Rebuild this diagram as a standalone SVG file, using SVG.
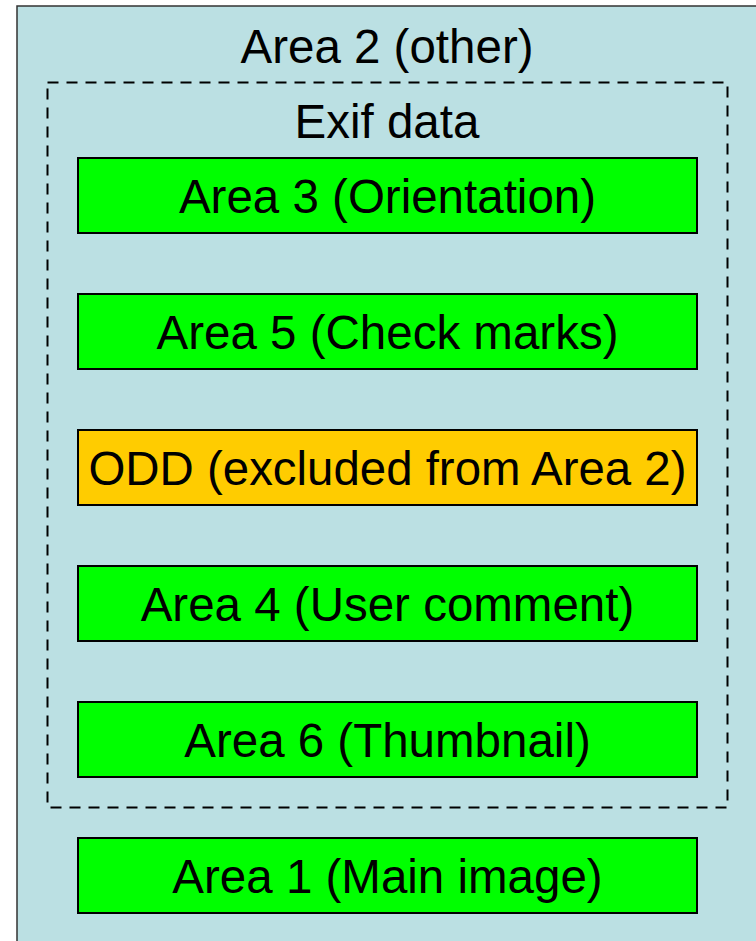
<svg xmlns="http://www.w3.org/2000/svg" width="756" height="941" viewBox="0 0 756 941">
<style>
  .t { font-family: "Liberation Sans", Arial, sans-serif; font-size: 47.5px; fill: #000; text-anchor: middle; }
  .node { stroke: #000; stroke-width: 2; }
  .green { fill: #00FF00; }
  .orange { fill: #FFCC00; }
</style>
<rect width="756" height="941" fill="#ffffff"/>
<g id="area2">
  <rect x="17" y="6" width="760" height="960" fill="#BBE0E3" stroke="#333" stroke-width="1.5"/>
  <text class="t" x="387" y="62.5">Area 2 (other)</text>
</g>
<g id="exif">
  <rect x="47.5" y="82.5" width="680" height="725" fill="none" stroke="#000" stroke-width="2" stroke-dasharray="11 8"/>
  <text class="t" x="387" y="138">Exif data</text>
</g>
<g id="area3">
  <rect class="node green" x="78" y="158" width="619" height="75"/>
  <text class="t" x="387.5" y="213">Area 3 (Orientation)</text>
</g>
<g id="area5">
  <rect class="node green" x="78" y="294" width="619" height="75"/>
  <text class="t" x="387.5" y="349">Area 5 (Check marks)</text>
</g>
<g id="odd">
  <rect class="node orange" x="78" y="430" width="619" height="75"/>
  <text class="t" x="387.5" y="485" textLength="598" lengthAdjust="spacingAndGlyphs">ODD (excluded from Area 2)</text>
</g>
<g id="area4">
  <rect class="node green" x="78" y="566" width="619" height="75"/>
  <text class="t" x="387.5" y="621">Area 4 (User comment)</text>
</g>
<g id="area6">
  <rect class="node green" x="78" y="702" width="619" height="75"/>
  <text class="t" x="387.5" y="757">Area 6 (Thumbnail)</text>
</g>
<g id="area1">
  <rect class="node green" x="78" y="838" width="619" height="75"/>
  <text class="t" x="387.5" y="893">Area 1 (Main image)</text>
</g>
<g id="connectors"></g>
</svg>
